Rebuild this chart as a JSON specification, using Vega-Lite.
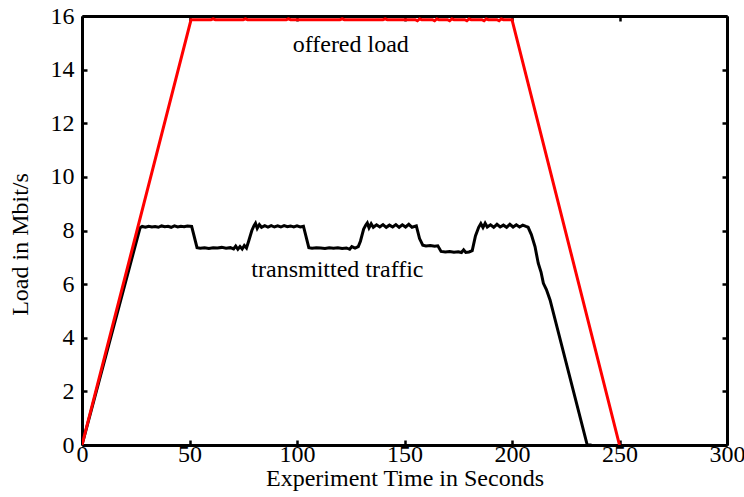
{
  "$schema": "https://vega.github.io/schema/vega-lite/v6.json",
  "width": 645,
  "height": 429,
  "autosize": "none",
  "padding": {"left": 82, "top": 16, "right": 17, "bottom": 52},
  "background": "white",
  "config": {
    "view": {"stroke": null},
    "font": "Liberation Serif",
    "axis": {
      "grid": false,
      "labelFont": "Liberation Serif",
      "labelFontSize": 24,
      "labelColor": "black",
      "labelFlush": false,
      "labelOverlap": false,
      "titleFont": "Liberation Serif",
      "titleFontSize": 24,
      "titleFontWeight": "normal",
      "titleColor": "black",
      "domainColor": "black",
      "domainWidth": 3,
      "tickColor": "black",
      "tickWidth": 2.5,
      "tickSize": -5
    }
  },
  "datasets": {
    "transmitted": [
      {"t":0,"v":0},{"t":27,"v":8.1},{"t":28,"v":8.15},{"t":29.5,"v":8.12},{"t":31,"v":8.16},{"t":32.5,"v":8.13},{"t":34,"v":8.15},{"t":35.5,"v":8.12},{"t":37,"v":8.17},{"t":38.5,"v":8.14},{"t":40,"v":8.16},{"t":41.5,"v":8.12},{"t":43,"v":8.17},{"t":44.5,"v":8.13},{"t":46,"v":8.16},{"t":47.5,"v":8.14},{"t":49,"v":8.17},{"t":51,"v":8.15},
      {"t":53.5,"v":7.36},{"t":55,"v":7.34},{"t":57,"v":7.36},{"t":59,"v":7.33},{"t":61,"v":7.36},{"t":63,"v":7.35},{"t":65,"v":7.37},{"t":67,"v":7.34},{"t":69,"v":7.36},{"t":70.5,"v":7.31},{"t":71.5,"v":7.42},{"t":72.5,"v":7.3},{"t":73.5,"v":7.4},{"t":74.5,"v":7.31},{"t":75.5,"v":7.44},{"t":76.5,"v":7.35},{"t":77.5,"v":7.6},{"t":79,"v":8.0},
      {"t":80,"v":8.18},{"t":80.7,"v":8.27},{"t":81.5,"v":8.08},{"t":82.5,"v":8.22},{"t":83.5,"v":8.12},{"t":85,"v":8.18},{"t":86.5,"v":8.13},{"t":88,"v":8.18},{"t":89.5,"v":8.13},{"t":91,"v":8.17},{"t":92.5,"v":8.13},{"t":94,"v":8.18},{"t":95.5,"v":8.14},{"t":97,"v":8.17},{"t":98.5,"v":8.13},{"t":100,"v":8.17},{"t":101.5,"v":8.13},{"t":103,"v":8.16},
      {"t":105.5,"v":7.36},{"t":107,"v":7.34},{"t":109,"v":7.36},{"t":111,"v":7.35},{"t":113,"v":7.33},{"t":115,"v":7.36},{"t":117,"v":7.34},{"t":119,"v":7.36},{"t":121,"v":7.33},{"t":123,"v":7.35},{"t":124.5,"v":7.3},{"t":125.5,"v":7.4},{"t":127,"v":7.34},{"t":128.5,"v":7.4},{"t":129.5,"v":7.6},{"t":131,"v":8.05},
      {"t":132,"v":8.2},{"t":132.7,"v":8.28},{"t":133.5,"v":8.1},{"t":134.5,"v":8.25},{"t":135.5,"v":8.12},{"t":137,"v":8.21},{"t":138.5,"v":8.13},{"t":140,"v":8.22},{"t":141.5,"v":8.12},{"t":143,"v":8.2},{"t":144.5,"v":8.13},{"t":146,"v":8.22},{"t":147.5,"v":8.12},{"t":149,"v":8.21},{"t":150.5,"v":8.13},{"t":152,"v":8.23},{"t":153.5,"v":8.12},{"t":155.5,"v":8.17},
      {"t":157,"v":7.7},{"t":158.5,"v":7.45},{"t":160,"v":7.42},{"t":162,"v":7.44},{"t":164,"v":7.41},{"t":165.5,"v":7.43},{"t":167,"v":7.22},{"t":169,"v":7.2},{"t":171,"v":7.22},{"t":173,"v":7.19},{"t":175,"v":7.21},{"t":176.5,"v":7.18},{"t":177.5,"v":7.28},{"t":178.5,"v":7.18},{"t":180,"v":7.2},{"t":181.5,"v":7.25},{"t":183,"v":7.8},
      {"t":184.5,"v":8.12},{"t":185.5,"v":8.26},{"t":186.5,"v":8.11},{"t":187.5,"v":8.27},{"t":188.5,"v":8.13},{"t":190,"v":8.21},{"t":191.5,"v":8.12},{"t":193,"v":8.23},{"t":194.5,"v":8.13},{"t":196,"v":8.2},{"t":197.5,"v":8.12},{"t":199,"v":8.23},{"t":200.5,"v":8.13},{"t":202,"v":8.21},{"t":203.5,"v":8.13},{"t":205,"v":8.2},{"t":206.5,"v":8.15},{"t":207.5,"v":8.12},
      {"t":209,"v":7.85},{"t":210.7,"v":7.4},{"t":212.2,"v":6.78},{"t":213.5,"v":6.45},{"t":214.6,"v":6.03},{"t":216,"v":5.8},{"t":217.7,"v":5.41},{"t":235,"v":0},{"t":237,"v":0}
    ],
    "offered": [
      {"t":0,"v":0},{"t":50.7,"v":15.86},{"t":60,"v":15.86},{"t":61,"v":15.89},{"t":62,"v":15.86},{"t":75,"v":15.86},{"t":76,"v":15.89},{"t":77,"v":15.86},{"t":95,"v":15.86},{"t":96,"v":15.89},{"t":97,"v":15.86},{"t":120,"v":15.86},{"t":121,"v":15.89},{"t":122,"v":15.86},{"t":140,"v":15.86},{"t":141,"v":15.89},{"t":142,"v":15.86},{"t":155,"v":15.86},{"t":156,"v":15.82},{"t":157,"v":15.89},{"t":158,"v":15.86},{"t":163,"v":15.86},{"t":164,"v":15.82},{"t":165,"v":15.89},{"t":166,"v":15.86},{"t":170,"v":15.86},{"t":171,"v":15.82},{"t":172,"v":15.89},{"t":173,"v":15.86},{"t":178,"v":15.86},{"t":179,"v":15.82},{"t":180,"v":15.89},{"t":181,"v":15.86},{"t":186,"v":15.86},{"t":187,"v":15.82},{"t":188,"v":15.89},{"t":189,"v":15.86},{"t":193,"v":15.86},{"t":194,"v":15.82},{"t":195,"v":15.89},{"t":196,"v":15.86},{"t":200,"v":15.86},{"t":250,"v":0}
    ],
    "labels": [
      {"t":125,"v":14.67,"txt":"offered load"},
      {"t":118.8,"v":6.26,"txt":"transmitted traffic"}
    ]
  },
  "layer": [
    {
      "data": {"name": "transmitted"},
      "mark": {"type": "line", "color": "black", "strokeWidth": 3, "clip": true},
      "encoding": {
        "x": {"field": "t", "type": "quantitative",
          "scale": {"domain": [0, 300], "nice": false},
          "axis": {"orient": "bottom", "values": [0,50,100,150,200,250,300], "title": "Experiment Time in Seconds", "labelPadding": 2, "titlePadding": 0}},
        "y": {"field": "v", "type": "quantitative",
          "scale": {"domain": [0, 16], "nice": false},
          "axis": {"orient": "left", "values": [0,2,4,6,8,10,12,14,16], "title": "Load in Mbit/s", "labelPadding": 13, "titlePadding": 18, "titleY": 228}}
      }
    },
    {
      "data": {"name": "offered"},
      "mark": {"type": "line", "color": "#ff0000", "strokeWidth": 3, "clip": true},
      "encoding": {
        "x": {"field": "t", "type": "quantitative", "scale": {"domain": [0, 300], "nice": false},
          "axis": {"orient": "top", "values": [0,50,100,150,200,250,300], "labels": false, "title": null}},
        "y": {"field": "v", "type": "quantitative", "scale": {"domain": [0, 16], "nice": false},
          "axis": {"orient": "right", "values": [0,2,4,6,8,10,12,14,16], "labels": false, "title": null}}
      }
    },
    {
      "data": {"name": "labels"},
      "mark": {"type": "text", "font": "Liberation Serif", "fontSize": 24, "color": "black", "align": "center", "baseline": "alphabetic"},
      "encoding": {
        "x": {"field": "t", "type": "quantitative", "axis": null},
        "y": {"field": "v", "type": "quantitative", "axis": null},
        "text": {"field": "txt", "type": "nominal"}
      }
    }
  ],
  "resolve": {"axis": {"x": "independent", "y": "independent"}}
}
